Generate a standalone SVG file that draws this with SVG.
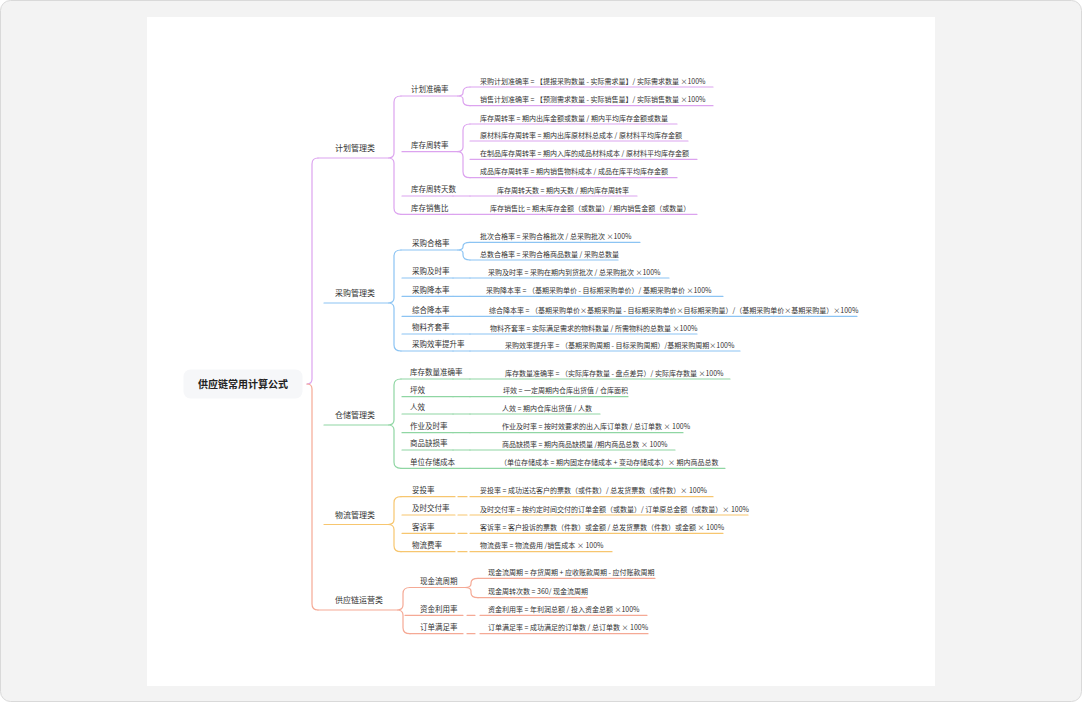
<svg xmlns="http://www.w3.org/2000/svg" width="1082" height="702" viewBox="0 0 1082 702">
<style>
text{font-family:"Noto Sans CJK SC","Noto Sans",sans-serif;fill:#333}
.root{font-size:10px;font-weight:bold;fill:#222;text-anchor:middle}
.cat{font-size:8px}
.lbl{font-size:7.5px}
.f{font-size:7px}
.ln{fill:none;stroke-width:1.2;stroke-linecap:round}
.pu{stroke:#dca3ef}.bl{stroke:#8cc4f3}.gr{stroke:#8fd6a3}.or{stroke:#f7c66f}.sa{stroke:#f5a995}
</style>
<rect x="0.5" y="0.5" width="1081" height="701" rx="10" fill="#f3f3f3" stroke="#d9d9d9"/>
<rect x="147" y="17" width="788" height="669" fill="#ffffff"/>

<g id="connectors" class="ln">
  <!-- root brace -->
  <path class="pu" d="M318,158 Q312,158 312,164 L312,379 Q312,384 307,384"/>
  <path class="sa" d="M307,384 Q312,384 312,389 L312,604 Q312,610 318,610"/>
  <!-- category braces -->
  <path class="pu" d="M401,96 Q394,96 394,102 L394,153 Q394,158 388,158 Q394,158 394,163 L394,208.3 Q394,214.3 401,214.3"/>
  <path class="bl" d="M401,250 Q394,250 394,256 L394,298 Q394,303 388,303 Q394,303 394,308 L394,345 Q394,351 401,351"/>
  <path class="gr" d="M401,379 Q394,379 394,385 L394,420 Q394,425 388,425 Q394,425 394,430 L394,462.3 Q394,468.3 401,468.3"/>
  <path class="or" d="M401,496.7 Q394,496.7 394,502.7 L394,519.5 Q394,524.5 388,524.5 Q394,524.5 394,529.5 L394,545.7 Q394,551.7 401,551.7"/>
  <path class="sa" d="M410,587.5 Q403,587.5 403,593.5 L403,605 Q403,610 397,610 Q403,610 403,615 L403,627.7 Q403,633.7 410,633.7"/>
  <!-- sub braces -->
  <path class="pu" d="M470,87 Q463,87 463,92 L463,93 Q463,96 457,96 Q463,96 463,99 L463,100.7 Q463,105.7 470,105.7"/>
  <path class="pu" d="M470,124 Q463,124 463,130 L463,147 Q463,151.7 457,151.7 Q463,151.7 463,156.7 L463,171.7 Q463,177.7 470,177.7"/>
  <path class="bl" d="M470,242.3 Q463,242.3 463,246.3 L463,247 Q463,250 457,250 Q463,250 463,253 L463,255 Q463,260 470,260"/>
  <path class="sa" d="M478,578.3 Q471,578.3 471,583 L471,584 Q471,587.5 465,587.5 Q471,587.5 471,591 L471,592.7 Q471,597.7 478,597.7"/>
  <!-- single-child links -->
  <line class="pu" x1="453" y1="196" x2="470" y2="196"/>
  <line class="pu" x1="453" y1="214.3" x2="470" y2="214.3"/>
  <line class="bl" x1="453" y1="278" x2="470" y2="278"/>
  <line class="bl" x1="453" y1="296.3" x2="470" y2="296.3"/>
  <line class="bl" x1="453" y1="316.3" x2="470" y2="316.3"/>
  <line class="bl" x1="453" y1="334" x2="470" y2="334"/>
  <line class="bl" x1="453" y1="351" x2="470" y2="351"/>
  <line class="gr" x1="453" y1="379" x2="470" y2="379"/>
  <line class="gr" x1="453" y1="396.7" x2="470" y2="396.7"/>
  <line class="gr" x1="453" y1="414" x2="470" y2="414"/>
  <line class="gr" x1="453" y1="432.7" x2="470" y2="432.7"/>
  <line class="gr" x1="453" y1="450" x2="470" y2="450"/>
  <line class="gr" x1="453" y1="468.3" x2="470" y2="468.3"/>
  <line class="or" x1="458" y1="496.7" x2="467" y2="496.7"/>
  <line class="or" x1="458" y1="515" x2="467" y2="515"/>
  <line class="or" x1="458" y1="533.3" x2="467" y2="533.3"/>
  <line class="or" x1="458" y1="551.7" x2="467" y2="551.7"/>
  <line class="sa" x1="467" y1="615.3" x2="475" y2="615.3"/>
  <line class="sa" x1="467" y1="633.7" x2="475" y2="633.7"/>
</g>

<g id="root">
  <rect x="183.5" y="369.5" width="119" height="29" rx="7" fill="#f6f7f9"/>
  <text class="root" x="243" y="387.5">供应链常用计算公式</text>
</g>

<g id="cat-plan"><line class="ln pu" x1="318" y1="158" x2="388" y2="158"/><text class="cat" x="335" y="151">计划管理类</text></g>
<g id="cat-purchase"><line class="ln bl" x1="324" y1="303" x2="388" y2="303"/><text class="cat" x="335" y="296">采购管理类</text></g>
<g id="cat-storage"><line class="ln gr" x1="324" y1="425" x2="388" y2="425"/><text class="cat" x="335" y="418">仓储管理类</text></g>
<g id="cat-logistics"><line class="ln or" x1="324" y1="524.5" x2="388" y2="524.5"/><text class="cat" x="335" y="517.5">物流管理类</text></g>
<g id="cat-ops"><line class="ln sa" x1="318" y1="610" x2="397" y2="610"/><text class="cat" x="335" y="603">供应链运营类</text></g>

<!-- plan -->
<g id="n-plan-acc"><line class="ln pu" x1="401" y1="96" x2="457" y2="96"/><text class="lbl" x="411" y="92.2">计划准确率</text></g>
<g id="f-plan-1"><line class="ln pu" x1="470" y1="87" x2="713" y2="87"/><text class="f" x="480" y="83.5">采购计划准确率 = 【提报采购数量 - 实际需求量】/ 实际需求数量 ×100%</text></g>
<g id="f-plan-2"><line class="ln pu" x1="470" y1="105.7" x2="713" y2="105.7"/><text class="f" x="480" y="102.2">销售计划准确率 = 【预测需求数量 - 实际销售量】/ 实际销售数量 ×100%</text></g>
<g id="n-plan-turn"><line class="ln pu" x1="402" y1="151.7" x2="457" y2="151.7"/><text class="lbl" x="411" y="147.9">库存周转率</text></g>
<g id="f-turn-1"><line class="ln pu" x1="470" y1="124" x2="677" y2="124"/><text class="f" x="480" y="120.5">库存周转率 = 期内出库金额或数量 / 期内平均库存金额或数量</text></g>
<g id="f-turn-2"><line class="ln pu" x1="470" y1="141" x2="688" y2="141"/><text class="f" x="480" y="137.5">原材料库存周转率 = 期内出库原材料总成本 / 原材料平均库存金额</text></g>
<g id="f-turn-3"><line class="ln pu" x1="470" y1="159.3" x2="697" y2="159.3"/><text class="f" x="480" y="155.8">在制品库存周转率 = 期内入库的成品材料成本 / 原材料平均库存金额</text></g>
<g id="f-turn-4"><line class="ln pu" x1="470" y1="177.7" x2="677" y2="177.7"/><text class="f" x="480" y="174.2">成品库存周转率 = 期内销售物料成本 / 成品在库平均库存金额</text></g>
<g id="n-plan-days"><line class="ln pu" x1="402" y1="196" x2="453" y2="196"/><text class="lbl" x="411" y="192.2">库存周转天数</text></g>
<g id="f-days"><line class="ln pu" x1="470" y1="196" x2="637" y2="196"/><text class="f" x="497" y="192.5">库存周转天数 = 期内天数 / 期内库存周转率</text></g>
<g id="n-plan-ratio"><line class="ln pu" x1="401" y1="214.3" x2="453" y2="214.3"/><text class="lbl" x="411" y="210.5">库存销售比</text></g>
<g id="f-ratio"><line class="ln pu" x1="470" y1="214.3" x2="697" y2="214.3"/><text class="f" x="490" y="210.8">库存销售比 = 期末库存金额（或数量）/ 期内销售金额（或数量）</text></g>

<!-- purchase -->
<g id="n-pur-qual"><line class="ln bl" x1="401" y1="250" x2="457" y2="250"/><text class="lbl" x="412" y="246.2">采购合格率</text></g>
<g id="f-qual-1"><line class="ln bl" x1="470" y1="242.3" x2="640" y2="242.3"/><text class="f" x="480" y="238.8">批次合格率 = 采购合格批次 / 总采购批次 ×100%</text></g>
<g id="f-qual-2"><line class="ln bl" x1="470" y1="260" x2="618" y2="260"/><text class="f" x="480" y="256.5">总数合格率 = 采购合格商品数量 / 采购总数量</text></g>
<g id="n-pur-time"><line class="ln bl" x1="402" y1="278" x2="453" y2="278"/><text class="lbl" x="412" y="274.2">采购及时率</text></g>
<g id="f-pur-time"><line class="ln bl" x1="470" y1="278" x2="669" y2="278"/><text class="f" x="488" y="274.5">采购及时率 = 采购在期内到货批次 / 总采购批次 ×100%</text></g>
<g id="n-pur-cost"><line class="ln bl" x1="402" y1="296.3" x2="453" y2="296.3"/><text class="lbl" x="412" y="292.5">采购降本率</text></g>
<g id="f-pur-cost"><line class="ln bl" x1="470" y1="296.3" x2="723" y2="296.3"/><text class="f" x="486" y="292.8">采购降本率 = （基期采购单价 - 目标期采购单价）/ 基期采购单价 ×100%</text></g>
<g id="n-pur-all"><line class="ln bl" x1="402" y1="316.3" x2="453" y2="316.3"/><text class="lbl" x="412" y="312.5">综合降本率</text></g>
<g id="f-pur-all"><line class="ln bl" x1="470" y1="316.3" x2="857" y2="316.3"/><text class="f" x="489" y="312.8">综合降本率 = （基期采购单价×基期采购量 - 目标期采购单价×目标期采购量）/（基期采购单价×基期采购量）×100%</text></g>
<g id="n-pur-kit"><line class="ln bl" x1="402" y1="334" x2="453" y2="334"/><text class="lbl" x="412" y="330.2">物料齐套率</text></g>
<g id="f-pur-kit"><line class="ln bl" x1="470" y1="334" x2="697" y2="334"/><text class="f" x="490" y="330.5">物料齐套率 = 实际满足需求的物料数量 / 所需物料的总数量 ×100%</text></g>
<g id="n-pur-eff"><line class="ln bl" x1="401" y1="351" x2="453" y2="351"/><text class="lbl" x="412" y="347.2">采购效率提升率</text></g>
<g id="f-pur-eff"><line class="ln bl" x1="470" y1="351" x2="740" y2="351"/><text class="f" x="505" y="347.5">采购效率提升率 = （基期采购周期 - 目标采购周期）/基期采购周期×100%</text></g>

<!-- storage -->
<g id="n-st-acc"><line class="ln gr" x1="401" y1="379" x2="453" y2="379"/><text class="lbl" x="410" y="375.2">库存数量准确率</text></g>
<g id="f-st-acc"><line class="ln gr" x1="470" y1="379" x2="730" y2="379"/><text class="f" x="505" y="375.5">库存数量准确率 = （实际库存数量 - 盘点差异）/ 实际库存数量 ×100%</text></g>
<g id="n-st-area"><line class="ln gr" x1="402" y1="396.7" x2="453" y2="396.7"/><text class="lbl" x="410" y="392.9">坪效</text></g>
<g id="f-st-area"><line class="ln gr" x1="470" y1="396.7" x2="628" y2="396.7"/><text class="f" x="503" y="393.2">坪效 = 一定周期内仓库出货值 / 仓库面积</text></g>
<g id="n-st-man"><line class="ln gr" x1="402" y1="414" x2="453" y2="414"/><text class="lbl" x="410" y="410.2">人效</text></g>
<g id="f-st-man"><line class="ln gr" x1="470" y1="414" x2="600" y2="414"/><text class="f" x="502" y="410.5">人效 = 期内仓库出货值 / 人数</text></g>
<g id="n-st-time"><line class="ln gr" x1="402" y1="432.7" x2="453" y2="432.7"/><text class="lbl" x="410" y="428.9">作业及时率</text></g>
<g id="f-st-time"><line class="ln gr" x1="470" y1="432.7" x2="683" y2="432.7"/><text class="f" x="502" y="429.2">作业及时率 = 按时效要求的出入库订单数 / 总订单数 × 100%</text></g>
<g id="n-st-loss"><line class="ln gr" x1="402" y1="450" x2="453" y2="450"/><text class="lbl" x="410" y="446.2">商品缺损率</text></g>
<g id="f-st-loss"><line class="ln gr" x1="470" y1="450" x2="675" y2="450"/><text class="f" x="502" y="446.5">商品缺损率 = 期内商品缺损量 /期内商品总数 × 100%</text></g>
<g id="n-st-unit"><line class="ln gr" x1="401" y1="468.3" x2="453" y2="468.3"/><text class="lbl" x="410" y="464.5">单位存储成本</text></g>
<g id="f-st-unit"><line class="ln gr" x1="470" y1="468.3" x2="725" y2="468.3"/><text class="f" x="500" y="464.8">（单位存储成本 = 期内固定存储成本 + 变动存储成本）× 期内商品总数</text></g>

<!-- logistics -->
<g id="n-lo-del"><line class="ln or" x1="401" y1="496.7" x2="455" y2="496.7"/><text class="lbl" x="412" y="492.9">妥投率</text></g>
<g id="f-lo-del"><line class="ln or" x1="470" y1="496.7" x2="713" y2="496.7"/><text class="f" x="480" y="493.2">妥投率 = 成功送达客户的票数（或件数）/ 总发货票数（或件数）× 100%</text></g>
<g id="n-lo-time"><line class="ln or" x1="402" y1="515" x2="455" y2="515"/><text class="lbl" x="412" y="511.2">及时交付率</text></g>
<g id="f-lo-time"><line class="ln or" x1="470" y1="515" x2="748" y2="515"/><text class="f" x="480" y="511.5">及时交付率 = 按约定时间交付的订单金额（或数量）/ 订单原总金额（或数量）× 100%</text></g>
<g id="n-lo-comp"><line class="ln or" x1="402" y1="533.3" x2="455" y2="533.3"/><text class="lbl" x="412" y="529.5">客诉率</text></g>
<g id="f-lo-comp"><line class="ln or" x1="470" y1="533.3" x2="723" y2="533.3"/><text class="f" x="480" y="529.8">客诉率 = 客户投诉的票数（件数）或金额 / 总发货票数（件数）或金额 × 100%</text></g>
<g id="n-lo-fee"><line class="ln or" x1="401" y1="551.7" x2="455" y2="551.7"/><text class="lbl" x="412" y="547.9">物流费率</text></g>
<g id="f-lo-fee"><line class="ln or" x1="470" y1="551.7" x2="612" y2="551.7"/><text class="f" x="480" y="548.2">物流费率 = 物流费用 /销售成本 × 100%</text></g>

<!-- ops -->
<g id="n-op-cash"><line class="ln sa" x1="410" y1="587.5" x2="465" y2="587.5"/><text class="lbl" x="420" y="583.7">现金流周期</text></g>
<g id="f-op-cash-1"><line class="ln sa" x1="478" y1="578.3" x2="655" y2="578.3"/><text class="f" x="488" y="574.8">现金流周期 = 存货周期 + 应收账款周期 - 应付账款周期</text></g>
<g id="f-op-cash-2"><line class="ln sa" x1="478" y1="597.7" x2="587" y2="597.7"/><text class="f" x="488" y="594.2">现金周转次数 = 360/ 现金流周期</text></g>
<g id="n-op-fund"><line class="ln sa" x1="405" y1="615.3" x2="463" y2="615.3"/><text class="lbl" x="420" y="611.5">资金利用率</text></g>
<g id="f-op-fund"><line class="ln sa" x1="480" y1="615.3" x2="647" y2="615.3"/><text class="f" x="488" y="611.8">资金利用率 = 年利润总额 / 投入资金总额 ×100%</text></g>
<g id="n-op-order"><line class="ln sa" x1="410" y1="633.7" x2="463" y2="633.7"/><text class="lbl" x="420" y="629.9">订单满足率</text></g>
<g id="f-op-order"><line class="ln sa" x1="480" y1="633.7" x2="648" y2="633.7"/><text class="f" x="488" y="630.2">订单满足率 = 成功满足的订单数 / 总订单数 × 100%</text></g>
</svg>
